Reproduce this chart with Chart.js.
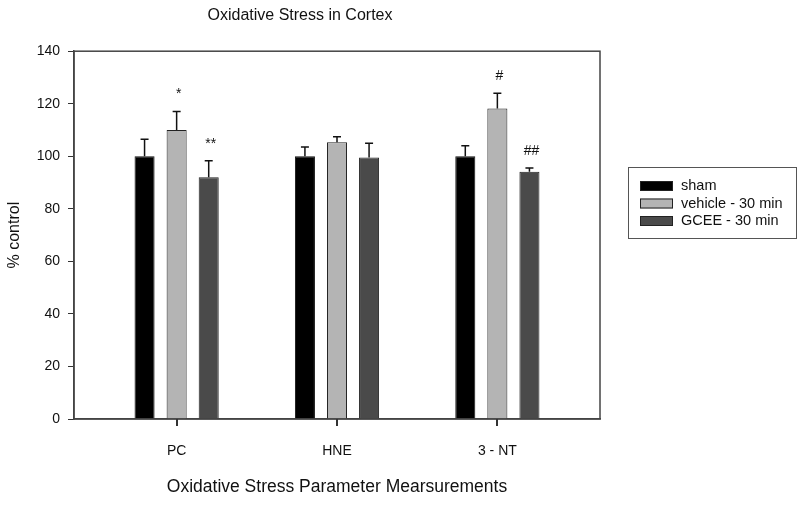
<!DOCTYPE html>
<html>
<head>
<meta charset="utf-8">
<script src="https://cdn.jsdelivr.net/npm/chart.js@4"></script>
<style>
  html, body { margin: 0; padding: 0; background: #fff; }
  #wrap { width: 800px; height: 505px; }
</style>
</head>
<body>
<div id="wrap"><canvas id="cortex"></canvas></div>
<script>
// values (% of control)
const categories = ['PC', 'HNE', '3 - NT'];
const seriesNames = ['sham', 'vehicle - 30 min', 'GCEE - 30 min'];
const sham = [100, 100, 100];
const vehicle = [110, 105.3, 118.2];
const gcee = [92, 99.5, 94.1];
// upper error bar lengths
const shamErr = [6.5, 3.5, 4];
const vehicleErr = [7, 2.1, 5.8];
const gceeErr = [6.3, 5.5, 1.4];
// significance marks
const shamMarks = ['', '', ''];
const vehicleMarks = ['*', '', '#'];
const gceeMarks = ['**', '', '##'];
const yTicks = [0, 20, 40, 60, 80, 100, 120, 140];

const FONT = '"Liberation Sans", Arial, sans-serif';
const fills = ['#000000', '#b4b4b4', '#4a4a4a'];
const errs = [shamErr, vehicleErr, gceeErr];
const marks = [shamMarks, vehicleMarks, gceeMarks];

function pts(arr) { return arr.map((v, i) => ({ x: i, y: v })); }

const extras = {
  id: 'extras',
  afterDraw(chart) {
    const ctx = chart.ctx;
    const x = chart.scales.x;
    const y = chart.scales.y;
    const a = chart.chartArea;
    ctx.save();
    // frame top/right
    ctx.strokeStyle = '#444';
    ctx.lineWidth = 1.5;
    ctx.strokeRect(a.left, a.top, a.right - a.left, a.bottom - a.top);
    // category ticks below the axis
    ctx.fillStyle = '#333';
    x.ticks.forEach(t => {
      const px = Math.round(x.getPixelForValue(t.value));
      ctx.fillRect(px - 1, Math.round(a.bottom), 2, 7);
    });
    // error bars + marks
    chart.data.datasets.forEach((ds, di) => {
      const meta = chart.getDatasetMeta(di);
      meta.data.forEach((bar, i) => {
        const top = y.getPixelForValue(ds.data[i].y + errs[di][i]);
        ctx.strokeStyle = '#111';
        ctx.lineWidth = 1.5;
        ctx.beginPath();
        ctx.moveTo(bar.x, bar.y);
        ctx.lineTo(bar.x, top);
        ctx.moveTo(bar.x - 4, top);
        ctx.lineTo(bar.x + 4, top);
        ctx.stroke();
        const m = marks[di][i];
        if (m) {
          ctx.fillStyle = '#111';
          ctx.font = '14px ' + FONT;
          ctx.textAlign = 'center';
          ctx.textBaseline = 'middle';
          ctx.fillText(m, bar.x + 2, top - 17);
        }
      });
    });
    // legend
    ctx.strokeStyle = '#555';
    ctx.lineWidth = 1;
    ctx.strokeRect(628.5, 167.5, 168, 71);
    chart.data.datasets.forEach((ds, di) => {
      const cy = 186 + di * 17.5;
      ctx.fillStyle = fills[di];
      ctx.fillRect(640, cy - 5, 33, 10);
      ctx.strokeStyle = '#222';
      ctx.strokeRect(640.5, cy - 4.5, 32, 9);
      ctx.fillStyle = '#111';
      ctx.font = '14.5px ' + FONT;
      ctx.textAlign = 'left';
      ctx.textBaseline = 'middle';
      ctx.fillText(ds.label, 681, cy);
    });
    ctx.restore();
  }
};

new Chart(document.getElementById('cortex').getContext('2d'), {
  type: 'bar',
  data: {
    datasets: [
      { label: seriesNames[0], data: pts(sham), backgroundColor: fills[0], borderColor: '#111', borderWidth: 1 },
      { label: seriesNames[1], data: pts(vehicle), backgroundColor: fills[1], borderColor: '#222', borderWidth: 1 },
      { label: seriesNames[2], data: pts(gcee), backgroundColor: fills[2], borderColor: '#222', borderWidth: 1 }
    ]
  },
  plugins: [extras],
  options: {
    responsive: true,
    maintainAspectRatio: false,
    animation: false,
    categoryPercentage: 0.6,
    barPercentage: 0.625,
    layout: { padding: { left: 0, right: 200, top: 0, bottom: 0 } },
    plugins: {
      legend: { display: false },
      tooltip: { enabled: false },
      title: {
        display: true,
        text: 'Oxidative Stress in Cortex',
        color: '#111',
        font: { family: FONT, size: 16, weight: 'normal' },
        padding: { top: 6, bottom: 26 }
      }
    },
    scales: {
      x: {
        type: 'linear',
        min: -0.64,
        max: 2.64,
        offset: false,
        afterBuildTicks(scale) { scale.ticks = categories.map((c, i) => ({ value: i })); },
        afterFit(scale) { scale.height = 86; },
        ticks: {
          callback: (v) => categories[v],
          color: '#111',
          font: { family: FONT, size: 14 },
          padding: 16,
          maxRotation: 0
        },
        grid: { display: false },
        border: { display: true, color: '#444', width: 1.5 },
        title: {
          display: true,
          text: 'Oxidative Stress Parameter Mearsurements',
          color: '#111',
          font: { family: FONT, size: 17.5 },
          padding: { top: 0, bottom: 7 }
        }
      },
      y: {
        min: 0,
        max: 140,
        afterBuildTicks(scale) { scale.ticks = yTicks.map(v => ({ value: v })); },
        afterFit(scale) { scale.width = 74; },
        ticks: {
          color: '#111',
          font: { family: FONT, size: 14 },
          padding: 8
        },
        grid: { drawOnChartArea: false, drawTicks: true, tickLength: 6, color: '#333' },
        border: { display: true, color: '#444', width: 1.5 },
        title: {
          display: true,
          text: '% control',
          color: '#111',
          font: { family: FONT, size: 16 },
          padding: { top: 5, bottom: 0 }
        }
      }
    }
  }
});
</script>
</body>
</html>
